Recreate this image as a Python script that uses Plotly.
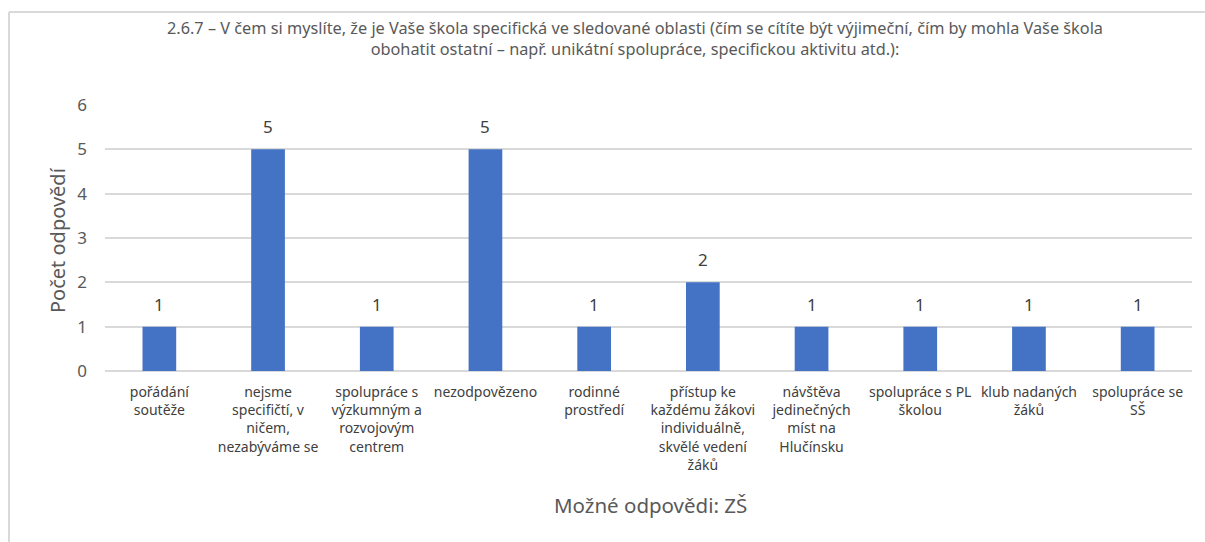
import plotly.graph_objects as go

# Survey answers (categories) and number of responses
categories = [
    "pořádání<br>soutěže",
    "nejsme<br>specifičtí, v<br>ničem,<br>nezabýváme se",
    "spolupráce s<br>výzkumným a<br>rozvojovým<br>centrem",
    "nezodpovězeno",
    "rodinné<br>prostředí",
    "přístup ke<br>každému žákovi<br>individuálně,<br>skvělé vedení<br>žáků",
    "návštěva<br>jedinečných<br>míst na<br>Hlučínsku",
    "spolupráce s PL<br>školou",
    "klub nadaných<br>žáků",
    "spolupráce se<br>SŠ",
]
counts = [1, 5, 1, 5, 1, 2, 1, 1, 1, 1]
y_ticks = [0, 1, 2, 3, 4, 5, 6]

title_text = ("2.6.7 – V čem si myslíte, že je Vaše škola specifická ve sledované oblasti "
              "(čím se cítíte být výjimeční, čím by mohla Vaše škola<br>obohatit ostatní – "
              "např. unikátní spolupráce, specifickou aktivitu atd.):")

W, H = 1205, 542
ML, MR, MT, MB = 105, 13, 105, 171
plot_w = W - ML - MR
plot_h = H - MT - MB

GRAY = "#595959"
DARK = "#404040"
GRID = "#d9d9d9"

fig = go.Figure()
fig.add_trace(go.Bar(
    x=categories,
    y=counts,
    marker=dict(color="#4472C4", line=dict(width=0)),
    width=0.31,
    hoverinfo="skip",
))

# value labels above each bar
annotations = []
for c, v in zip(categories, counts):
    annotations.append(dict(
        x=c, y=v, xref="x", yref="y", text=str(v), showarrow=False,
        yanchor="bottom", yshift=9,
        font=dict(family="Noto Sans", size=17, color=DARK),
    ))

# axis titles
annotations.append(dict(
    x=(57 - ML) / plot_w, y=(H - MB - 240) / plot_h, xref="paper", yref="paper",
    text="Počet odpovědí", textangle=-90, showarrow=False,
    xanchor="center", yanchor="middle",
    font=dict(family="Noto Sans", size=20, color=GRAY),
))
annotations.append(dict(
    x=(650 - ML) / plot_w, y=-(505 - (H - MB)) / plot_h, xref="paper", yref="paper",
    text="Možné odpovědi: ZŠ", showarrow=False,
    xanchor="center", yanchor="middle",
    font=dict(family="Noto Sans", size=20.5, color=GRAY),
))
# chart title
annotations.append(dict(
    x=(635 - ML) / plot_w, y=(H - MB - 38) / plot_h, xref="paper", yref="paper",
    text=title_text, showarrow=False, xanchor="center", yanchor="middle",
    font=dict(family="Noto Sans", size=16.3, color=GRAY),
))

# chart frame (left and top edges)
fx = (9 - ML) / plot_w
fy = (H - MB - 12) / plot_h
shapes = [
    dict(type="line", xref="paper", yref="paper", x0=fx, x1=fx, y0=fy, y1=-2,
         line=dict(color=GRID, width=2)),
    dict(type="line", xref="paper", yref="paper", x0=fx, x1=2, y0=fy, y1=fy,
         line=dict(color=GRID, width=2)),
]

fig.update_layout(
    width=W, height=H,
    margin=dict(l=ML, r=MR, t=MT, b=MB, autoexpand=False),
    paper_bgcolor="white", plot_bgcolor="white",
    showlegend=False,
    bargap=0.69,
    annotations=annotations,
    shapes=shapes,
    xaxis=dict(
        type="category",
        showgrid=False, showline=False, zeroline=False,
        ticks="", ticklabelstandoff=11,
        tickfont=dict(family="Noto Sans", size=14, color=DARK),
    ),
    yaxis=dict(
        range=[0, 6], tickvals=y_ticks,
        showgrid=True, gridcolor=GRID, gridwidth=1.5,
        zeroline=True, zerolinecolor=GRID, zerolinewidth=1.5,
        showline=False, ticks="", ticklabelstandoff=17,
        tickfont=dict(family="Noto Sans", size=17, color=GRAY),
    ),
)

fig.write_html("out.html")
